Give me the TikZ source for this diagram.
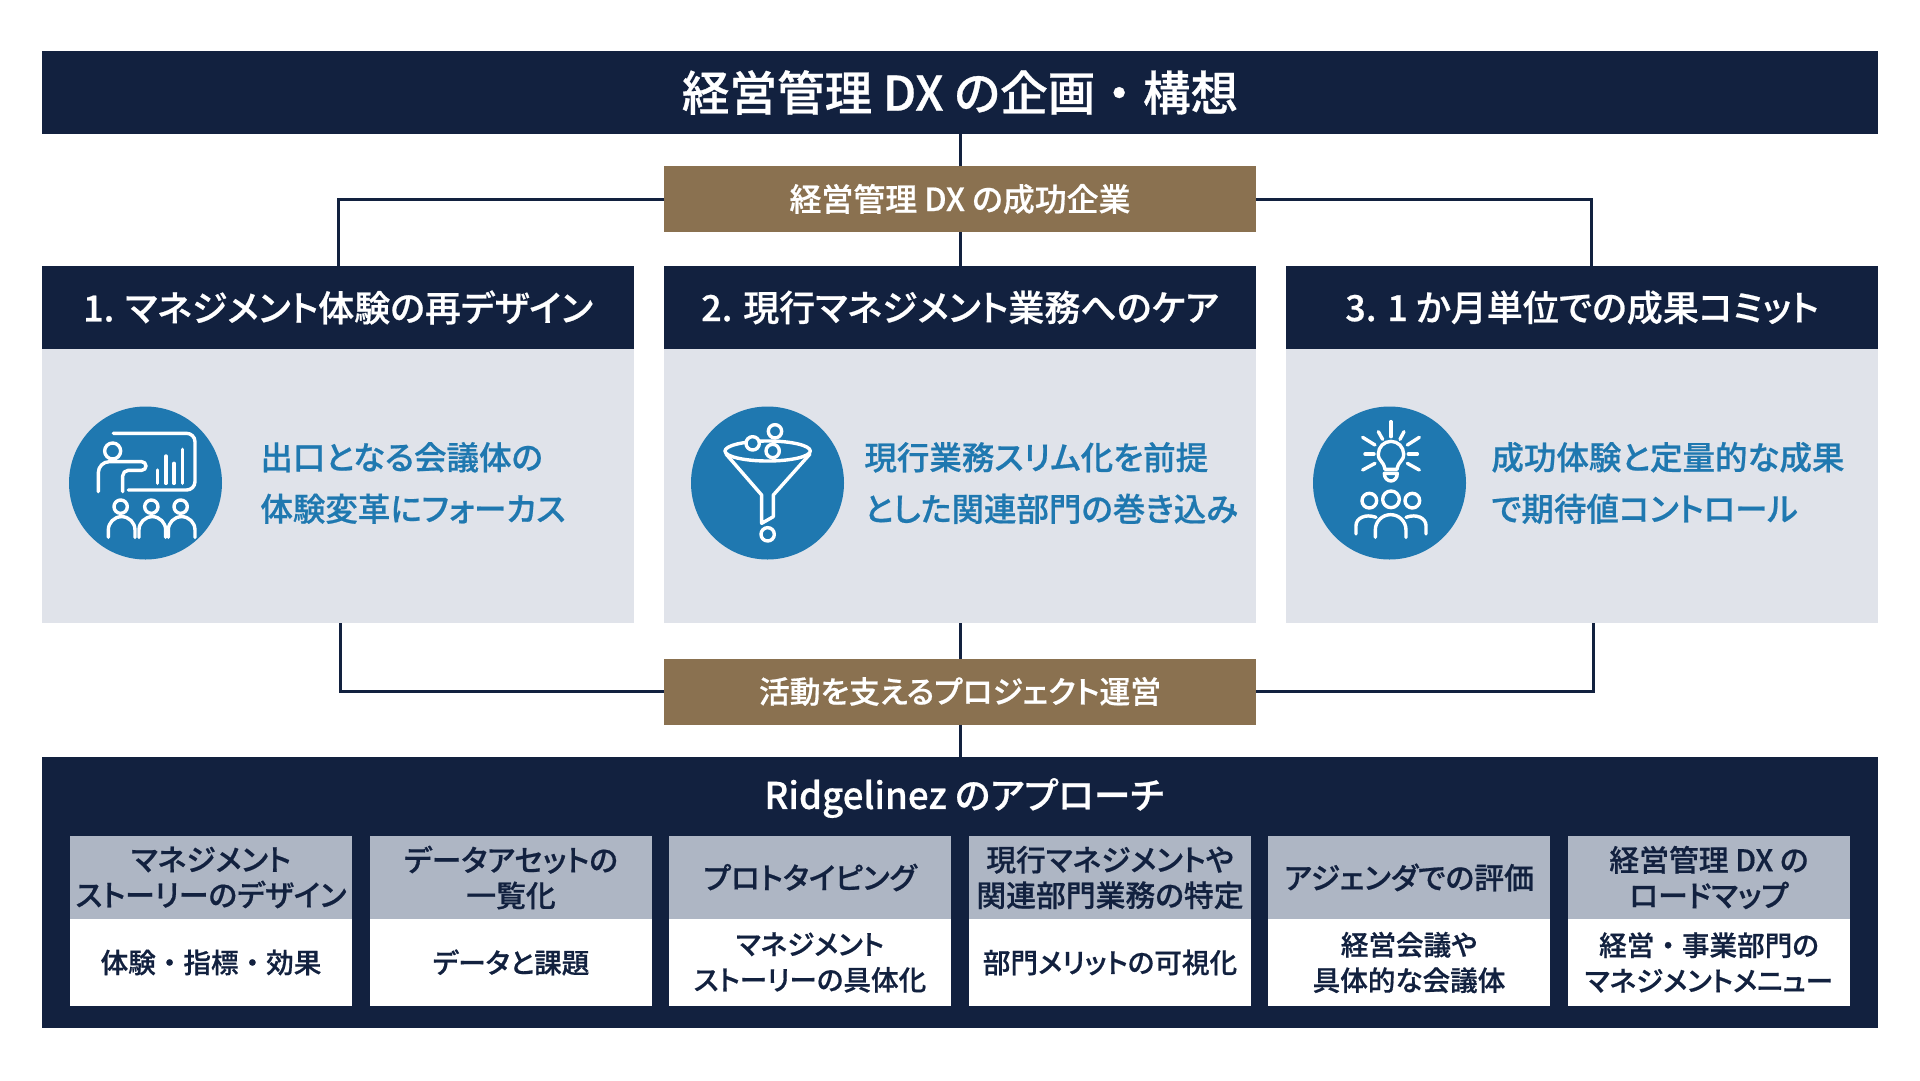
\documentclass[tikz,border=0pt]{standalone}
\usepackage{fontspec}
\setmainfont{Noto Sans CJK JP}[RawFeature=+palt, BoldFont=* Medium, BoldFeatures={FakeBold=0.6}]
\newfontfamily\fullwidth{Noto Sans CJK JP}[BoldFont=* Medium, BoldFeatures={FakeBold=0.6}]
\newcommand{\ndot}{{\fullwidth ・}}
\usepackage{xcolor}
\usetikzlibrary{positioning}
\definecolor{navybar}{HTML}{12213F}
\definecolor{tanbar}{HTML}{8A7150}
\definecolor{panelgray}{HTML}{E0E3EA}
\definecolor{headgray}{HTML}{AEB6C4}
\definecolor{iconblue}{HTML}{1F78B0}

\begin{document}
\begin{tikzpicture}[
  x=1pt, y=-1pt,
  titlebar/.style={rectangle, fill=navybar, text=white, inner sep=0pt, outer sep=0pt,
                   minimum width=1836pt, minimum height=83pt, align=center,
                   font=\fontsize{47.6}{50}\selectfont\bfseries},
  tagbar/.style={rectangle, fill=tanbar, text=white, inner sep=0pt, outer sep=0pt,
                 minimum width=592pt, minimum height=66pt, align=center,
                 font=\fontsize{31.9}{36}\selectfont\bfseries},
  headbar/.style={rectangle, fill=navybar, text=white, inner sep=0pt, outer sep=0pt,
                  minimum width=592pt, minimum height=83pt, align=center,
                  font=\fontsize{36}{40}\selectfont\bfseries},
  panelbox/.style={rectangle, fill=panelgray, inner sep=0pt, outer sep=0pt,
                   minimum width=592pt, minimum height=274pt},
  iconcirc/.style={circle, fill=iconblue, inner sep=0pt, minimum size=153pt},
  panellabel/.style={anchor=west, text=iconblue, inner sep=0pt, align=left,
                     font=\fontsize{32.5}{51.5}\selectfont\bfseries},
  basepanel/.style={rectangle, fill=navybar, inner sep=0pt, outer sep=0pt,
                    minimum width=1836pt, minimum height=271pt},
  basetitle/.style={text=white, inner sep=0pt, font=\fontsize{36.7}{40}\selectfont\bfseries},
  cardhead/.style={rectangle, fill=headgray, text=navybar, inner sep=0pt, outer sep=0pt,
                   minimum width=282pt, minimum height=83pt, align=center,
                   font=\fontsize{29.8}{35.5}\selectfont\bfseries},
  cardbody/.style={rectangle, fill=white, text=navybar, inner sep=0pt, outer sep=0pt,
                   minimum width=282pt, minimum height=87pt, align=center,
                   font=\fontsize{27.6}{35.5}\selectfont\bfseries},
  wire/.style={draw=navybar, line width=3pt},
  glyph/.style={draw=white, line width=3.4pt, line cap=round, line join=round},
  hole/.style={glyph, fill=iconblue}
]
\useasboundingbox (0,0) rectangle (1920,1080);

% --- Top title ---
\node[titlebar] (title) at (960,92.5) {経営管理 DX の企画\ndot 構想};
\node[tagbar] (tagtop) at (960,199) {経営管理 DX の成功企業};

% --- Three columns ---
\foreach \i/\x/\txt in {1/338/{1. マネジメント体験の再デザイン},
                        2/960/{2. 現行マネジメント業務へのケア},
                        3/1582/{3. 1 か月単位での成果コミット}} {
  \node[headbar] (head\i) at (\x,307.5) {\txt};
  \node[panelbox, below=0pt of head\i] (panel\i) {};
  \node[iconcirc] (icon\i) at (\x-192.5,483) {};
}
\node[panellabel, right=38pt of icon1] (txt1) {出口となる会議体の\\体験変革にフォーカス};
\node[panellabel, right=20pt of icon2] (txt2) {現行業務スリム化を前提\\とした関連部門の巻き込み};
\node[panellabel, right=25pt of icon3] (txt3) {成功体験と定量的な成果\\で期待値コントロール};

% --- Lower tag and approach panel ---
\node[tagbar, font=\fontsize{30.8}{36}\selectfont\bfseries] (tagbot) at (960,691.5) {活動を支えるプロジェクト運営};
\node[basepanel] (base) at (960,892.5) {};
\node[basetitle] (basetxt) at (964,798) {Ridgelinez のアプローチ};

% --- Cards ---
\foreach \i/\x/\up/\low in {1/211/{マネジメント\\ストーリーのデザイン}/{体験\ndot 指標\ndot 効果},
                            2/511/{データアセットの\\一覧化}/{データと課題},
                            3/810/{プロトタイピング}/{マネジメント\\ストーリーの具体化},
                            4/1110/{現行マネジメントや\\関連部門業務の特定}/{部門メリットの可視化},
                            5/1409/{アジェンダでの評価}/{経営会議や\\具体的な会議体},
                            6/1709/{経営管理 DX の\\ロードマップ}/{経営\ndot 事業部門の\\マネジメントメニュー}} {
  \node[cardhead] (up\i) at (\x,877.5) {\up};
  \node[cardbody, below=0pt of up\i] (low\i) {\low};
}

% --- Connectors ---
\coordinate (topright) at (1591,266);
\coordinate (botleft) at (340,623);
\coordinate (botright) at (1593,623);
\draw[wire] (title.south) -- (tagtop.north);
\draw[wire] (tagtop.south) -- (head2.north);
\draw[wire] (tagtop.west) -| (head1.north);
\draw[wire] (tagtop.east) -| (topright);
\draw[wire] (panel2.south) -- (tagbot.north);
\draw[wire] (tagbot.south) -- (base.north);
\draw[wire] (tagbot.west) -| (botleft);
\draw[wire] (tagbot.east) -| (botright);

% --- Icon 1: presenter and audience ---
\begin{scope}[shift={(40,380)}, x=0.3333pt, y=-0.3333pt]
  \draw[glyph] (220,160) -- (440,160) arc[start angle=-90, end angle=0, radius=25]
    -- (465,305) arc[start angle=0, end angle=90, radius=25] -- (265,330);
  \draw[glyph] (218,213) circle[radius=24];
  \draw[glyph] (175,335) -- (175,278) arc[start angle=180, end angle=270, radius=33]
    -- (305,245) arc[start angle=270, end angle=450, radius=13] -- (265,271)
    arc[start angle=270, end angle=180, radius=17] -- (248,335);
  \foreach \x/\y in {352/270, 378/228, 402/250, 428/208}
    \draw[glyph] (\x,\y) -- (\x,310);
  \foreach \x in {245, 337, 425} {
    \draw[glyph] (\x-3,380) circle[radius=20];
    \draw[glyph] (\x-40,472) -- (\x-40,450) arc[start angle=180, end angle=360, radius=40] -- (\x+40,472);
  }
\end{scope}

% --- Icon 2: funnel ---
\begin{scope}[shift={(670,380)}, x=0.3333pt, y=-0.3333pt]
  \draw[glyph] (293,213) ellipse[x radius=128, y radius=30];
  \draw[glyph] (168,222) -- (275,345) -- (275,430) -- (310,410) -- (310,345) -- (420,222);
  \foreach \x/\y in {315/154, 248/190, 308/213, 293/463}
    \draw[hole] (\x,\y) circle[radius=20];
\end{scope}

% --- Icon 3: lightbulb and team ---
\begin{scope}[shift={(1290,380)}, x=0.3333pt, y=-0.3333pt]
  \draw[glyph] (285,268) .. controls (280,240) and (265,245) .. (265,222)
    arc[start angle=180, end angle=360, radius=38]
    .. controls (341,245) and (326,240) .. (321,268) -- cycle;
  \draw[glyph] (283,280) -- (322,280) .. controls (322,295) and (312,303) .. (303,303)
    .. controls (293,303) and (283,295) .. (283,280) -- cycle;
  \foreach \a/\b/\c/\d in {303/125/303/170, 265/155/278/178, 342/155/330/178,
                           218/172/255/195, 388/172/352/195, 225/222/252/222,
                           355/222/382/222, 218/270/255/250, 388/270/352/250}
    \draw[glyph] (\a,\b) -- (\c,\d);
  \draw[glyph] (238,362) circle[radius=22];
  \draw[glyph] (303,358) circle[radius=25];
  \draw[glyph] (367,362) circle[radius=22];
  \draw[glyph] (256,472) -- (256,450) arc[start angle=180, end angle=360, radius=46] -- (348,472);
  \draw[glyph] (198,462) -- (198,437) .. controls (198,415) and (225,400) .. (258,412);
  \draw[glyph] (408,462) -- (408,437) .. controls (408,415) and (381,400) .. (348,412);
\end{scope}
\end{tikzpicture}
\end{document}
